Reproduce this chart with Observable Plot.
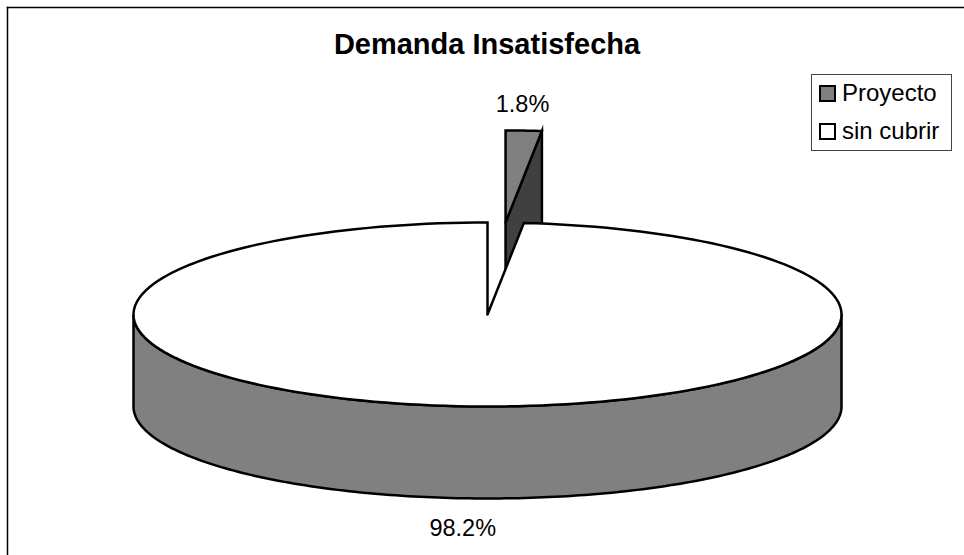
<!DOCTYPE html>
<html>
<head>
<meta charset="utf-8">
<script src="https://cdn.jsdelivr.net/npm/d3@7"></script>
<script src="https://cdn.jsdelivr.net/npm/@observablehq/plot@0.6"></script>
<style>
html,body{margin:0;padding:0;background:#fff}
#wrap{position:relative;width:964px;height:555px;overflow:hidden;font-family:"Liberation Sans",Arial,sans-serif;color:#000}
#wrap svg{display:block;position:absolute;left:0;top:0;background:#fff}
#title{position:absolute;left:0;width:974px;top:27px;text-align:center;font-size:29px;font-weight:bold;line-height:34px;z-index:2}
#legend{position:absolute;left:811px;top:74px;width:139px;height:75px;border:1.5px solid #444;background:#fff;box-sizing:content-box;z-index:2}
.row{position:absolute;left:0;height:30px;line-height:30px;font-size:24px;white-space:nowrap}
.sw{position:absolute;left:7px;top:6px;width:13px;height:13px;border:2.5px solid #000}
.lb{position:absolute;left:30px;top:-1px}
</style>
</head>
<body>
<div id="wrap"></div>
<script>
const chartTitle = "Demanda Insatisfecha";
const categories = ["Proyecto", "sin cubrir"];
const percents = [1.8, 98.2];
const topColors = ["#808080", "#ffffff"];
const sideColors = ["#404040", "#808080"];

// layout of the 3D pie, in pie units (1 = one radius across the ellipse)
const depth = 1;
const explode = {x: 0.051, y: 1};
const sweepFix = 0.91;
const labelAt = [{x: 0.099, y: 2.28}, {x: -0.07, y: -2.33}];

const arcs = d3.pie().sort(null).value(d => d)(percents);
const cut = arcs[0].endAngle * sweepFix;
const pt = (a, dx = 0, dy = 0) => ({x: Math.sin(a) + dx, y: Math.cos(a) + dy});
const arcPts = (a0, a1, dx = 0, dy = 0, n = 180) =>
  d3.range(n + 1).map(i => pt(a0 + (a1 - a0) * i / n, dx, dy));
const closed = pts => [...pts, pts[0]];

// main slice
const apex = {x: 0, y: 0};
const mainTop = closed([apex, ...arcPts(cut, 2 * Math.PI)]);
const mainSide = closed([
  ...arcPts(Math.PI / 2, 3 * Math.PI / 2),
  ...arcPts(3 * Math.PI / 2, Math.PI / 2, 0, -depth)
]);

// exploded slice
const eApex = {x: explode.x, y: explode.y};
const eTop = closed([eApex, ...arcPts(0, cut, explode.x, explode.y, 12)]);
const eEnd = pt(cut, explode.x, explode.y);
const eSide = closed([
  eApex, eEnd,
  {x: eEnd.x, y: eEnd.y - depth},
  {x: eApex.x, y: eApex.y - depth}
]);

const lineOpts = {
  x: "x", y: "y", stroke: "#000", strokeWidth: 2.5,
  strokeLinejoin: "miter", strokeMiterlimit: 10
};

const labels = categories.map((c, i) => ({
  text: d3.format(".1f")(percents[i]) + "%",
  x: labelAt[i].x, y: labelAt[i].y
}));

const svg = Plot.plot({
  width: 964, height: 555,
  marginLeft: 7, marginTop: 7, marginRight: 0, marginBottom: 0,
  x: {domain: [-1, 1], range: [133, 841], axis: null},
  y: {domain: [-1, 1], range: [406, 222], axis: null},
  marks: [
    Plot.frame({anchor: "left", stroke: "#000", strokeWidth: 1.5}),
    Plot.frame({anchor: "top", stroke: "#000", strokeWidth: 1.5}),
    Plot.line(eSide, {...lineOpts, fill: sideColors[0]}),
    Plot.line(eTop, {...lineOpts, fill: topColors[0]}),
    Plot.line(mainSide, {...lineOpts, fill: sideColors[1]}),
    Plot.line(mainTop, {...lineOpts, fill: topColors[1]}),
    Plot.text(labels, {
      x: "x", y: "y", text: "text", fontSize: 23.5,
      fontFamily: "Liberation Sans", fill: "#000", lineAnchor: "middle"
    })
  ]
});

const wrap = document.getElementById("wrap");
wrap.appendChild(svg);

const t = document.createElement("div");
t.id = "title"; t.textContent = chartTitle;
wrap.appendChild(t);

const lg = document.createElement("div");
lg.id = "legend";
categories.forEach((c, i) => {
  const r = document.createElement("div");
  r.className = "row";
  r.style.top = (4 + i * 38) + "px";
  const s = document.createElement("span");
  s.className = "sw";
  s.style.background = topColors[i];
  const l = document.createElement("span");
  l.className = "lb";
  l.textContent = c;
  r.append(s, l);
  lg.appendChild(r);
});
wrap.appendChild(lg);
</script>
</body>
</html>
